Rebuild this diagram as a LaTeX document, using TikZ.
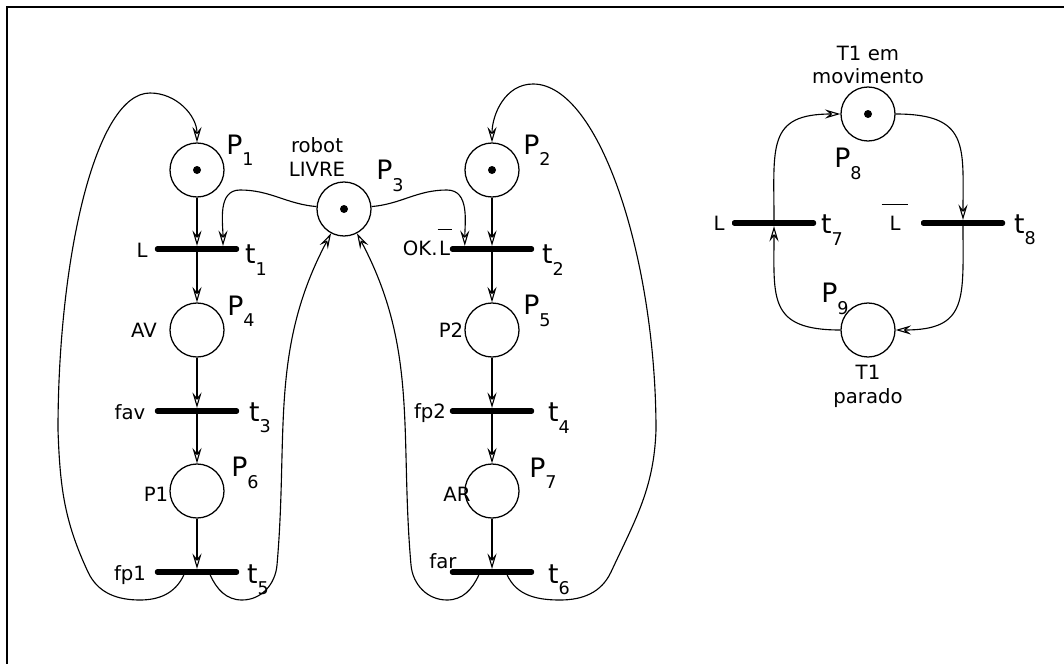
\documentclass[tikz,border=0pt]{standalone}
\usepackage{fontspec}
\setmainfont{DejaVu Sans}
\usetikzlibrary{arrows.meta}

% place / transition names with subscript
\newcommand{\pn}[2]{{\fontsize{19}{19}\selectfont #1\raisebox{-8pt}{\fontsize{12.5}{12.5}\selectfont #2}}}
% negated condition, bar drawn well above the letter
\newcommand{\negL}[1]{\shortstack{\rule{#1}{0.7pt}\\[5pt]L}}

\begin{document}
\begin{tikzpicture}[
    x=0.025cm, y=0.025cm,
    place/.style={draw, circle, minimum size=1.35cm, inner sep=0pt, line width=0.9pt},
    bar/.style={fill=black, rectangle, rounded corners=1.5pt, minimum width=2.1cm, minimum height=0.14cm, inner sep=0pt},
    token/.style={circle, fill=black, minimum size=0.2cm, inner sep=0pt},
    flow/.style={-{Stealth[open, length=11pt, width=6.5pt, inset=4pt]}, line width=0.8pt},
    plbl/.style={inner sep=0pt},
    lbl/.style={inner sep=0pt, font=\fontsize{14}{17}\selectfont, align=center}
]
\useasboundingbox (0,0) rectangle (1064,-664);

% Frame (only top and left edges inside the picture)
\draw[line width=1.5pt] (1064,-7) -| (7,-664);

% Places
\node[place] (P1) at (197,-170) {};
\node[place] (P2) at (492,-170) {};
\node[place] (P3) at (344,-209) {};
\node[place] (P4) at (197,-330) {};
\node[place] (P5) at (492,-330) {};
\node[place] (P6) at (197,-491) {};
\node[place] (P7) at (492,-491) {};
\node[place] (P8) at (868,-114) {};
\node[place] (P9) at (868,-330) {};

% Marking
\node[token] (m1) at (P1) {};
\node[token] (m2) at (P2) {};
\node[token] (m3) at (P3) {};
\node[token] (m8) at (P8) {};

% Transitions
\node[bar] (t1) at (197,-249) {};
\node[bar] (t2) at (492,-249) {};
\node[bar] (t3) at (197,-411) {};
\node[bar] (t4) at (492,-411) {};
\node[bar] (t5) at (197,-572) {};
\node[bar] (t6) at (492,-572) {};
\node[bar] (t7) at (774,-223) {};
\node[bar] (t8) at (963,-223) {};

% Names of places and transitions
\node[plbl] (lP1) at (240,-150) {\pn{P}{1}};
\node[plbl] (lP2) at (537,-150) {\pn{P}{2}};
\node[plbl] (lP3) at (390,-176) {\pn{P}{3}};
\node[plbl] (lP4) at (241,-311) {\pn{P}{4}};
\node[plbl] (lP5) at (537,-311) {\pn{P}{5}};
\node[plbl] (lP6) at (245,-473) {\pn{P}{6}};
\node[plbl] (lP7) at (543,-473) {\pn{P}{7}};
\node[plbl] (lP8) at (848,-164) {\pn{P}{8}};
\node[plbl] (lP9) at (835,-299) {\pn{P}{9}};
\node[plbl] (lt1) at (256,-260) {\pn{t}{1}};
\node[plbl] (lt2) at (553,-260) {\pn{t}{2}};
\node[plbl] (lt3) at (260,-418) {\pn{t}{3}};
\node[plbl] (lt4) at (559,-418) {\pn{t}{4}};
\node[plbl] (lt5) at (258,-580) {\pn{t}{5}};
\node[plbl] (lt6) at (559,-580) {\pn{t}{6}};
\node[plbl] (lt7) at (832,-230) {\pn{t}{7}};
\node[plbl] (lt8) at (1025,-230) {\pn{t}{8}};

% Conditions and meanings
\node[lbl] (cL1) at (142,-250) {L};
\node[lbl, anchor=south east] (cOK) at (452,-256) {OK.\negL{10pt}};
\node[lbl] (cRobot) at (317,-157) {robot\\LIVRE};
\node[lbl] (cAV) at (144,-330) {AV};
\node[lbl] (cP2) at (451,-330) {P2};
\node[lbl] (cFav) at (130,-412) {fav};
\node[lbl] (cFp2) at (430,-413) {fp2};
\node[lbl] (cP1) at (156,-494) {P1};
\node[lbl] (cAR) at (457,-494) {AR};
\node[lbl] (cFp1) at (130,-575) {fp1};
\node[lbl] (cFar) at (443,-561) {far};
\node[lbl] (cL7) at (719,-223) {L};
\node[lbl, anchor=south] (cL8) at (895,-231) {\negL{19pt}};
\node[lbl] (cMov) at (868,-65) {T1 em\\movimento};
\node[lbl] (cPar) at (868,-386) {T1\\parado};

% Straight arcs of the two sequences
\draw[flow] (P1) -- (t1);
\draw[flow] (t1) -- (P4);
\draw[flow] (P4) -- (t3);
\draw[flow] (t3) -- (P6);
\draw[flow] (P6) -- (t5);
\draw[flow] (P2) -- (t2);
\draw[flow] (t2) -- (P5);
\draw[flow] (P5) -- (t4);
\draw[flow] (t4) -- (P7);
\draw[flow] (P7) -- (t6);

% Shared robot place
\draw[flow] (P3) to[out=175,in=0] (240,-190) to[out=180,in=90] ([xshift=0.65cm]t1.north);
\draw[flow] (P3) to[out=5,in=180] (447,-190) to[out=0,in=90] ([xshift=-0.68cm]t2.north);
\draw[flow] ([xshift=0.33cm]t5.south) to[out=-65,in=180] (242,-600) to[out=0,in=-95] (277,-565)
    to[out=85,in=-118] (P3);
\draw[flow] ([xshift=-0.33cm]t6.south) to[out=-115,in=0] (447,-600) to[out=180,in=-85] (411,-565)
    to[out=95,in=-62] (P3);

% Return loops
\draw[flow] ([xshift=-0.33cm]t5.south) to[out=-115,in=0] (140,-600) to[out=180,in=-65] (88,-572)
    to[out=115,in=-88] (58,-430) .. controls (58,-260) and (95,-93) .. (150,-93) to[out=0,in=90] (P1);
\draw[flow] ([xshift=0.38cm]t6.south) to[out=-65,in=180] (560,-600) to[out=0,in=-115] (611,-572)
    to[out=65,in=-92] (656,-430) .. controls (656,-260) and (600,-84) .. (533,-84) to[out=180,in=90] (P2);

% Net of T1
\draw[flow] (t7.north) to[out=90,in=180,looseness=1.5] (P8);
\draw[flow] (P8) to[out=0,in=90,looseness=1.5] (t8.north);
\draw[flow] (t8.south) to[out=-90,in=0,looseness=1.5] (P9);
\draw[flow] (P9) to[out=180,in=-90,looseness=1.5] (t7.south);

\end{tikzpicture}
\end{document}
